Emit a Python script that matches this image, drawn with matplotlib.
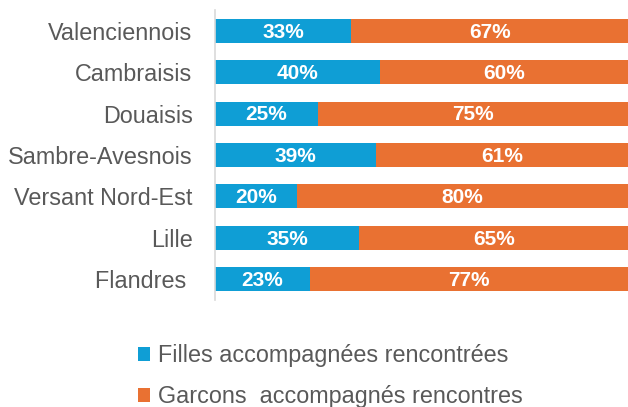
import matplotlib
matplotlib.use("Agg")
import matplotlib.pyplot as plt
import numpy as np

plt.rcParams["font.family"] = ["Liberation Sans", "DejaVu Sans"]

categories = ["Valenciennois", "Cambraisis", "Douaisis", "Sambre-Avesnois",
              "Versant Nord-Est", "Lille", "Flandres "]
filles = [33, 40, 25, 39, 20, 35, 23]
garcons = [67, 60, 75, 61, 80, 65, 77]
labels = ["Filles accompagnées rencontrées", "Garcons  accompagnés rencontres"]

BLUE = "#0F9ED5"
ORANGE = "#E97132"
GREY = "#595959"

fig = plt.figure(figsize=(6.28, 4.07), dpi=100)
ax = fig.add_axes([0.342, 0.263, 0.658, 0.712])

y = np.arange(len(categories))
b1 = ax.barh(y, filles, height=0.58, color=BLUE, label=labels[0])
b2 = ax.barh(y, garcons, left=filles, height=0.58, color=ORANGE, label=labels[1])

for vals, lefts in [(filles, [0] * len(filles)), (garcons, filles)]:
    for yi, v, l in zip(y, vals, lefts):
        ax.text(l + v / 2, yi + 0.03, f"{v}%", ha="center", va="center",
                color="white", fontsize=15, fontweight="bold")

ax.set_xlim(0, 100)
ax.set_ylim(len(categories) - 0.5, -0.5)
ax.set_yticks(y)
ax.set_yticklabels(categories, fontsize=16.8, color=GREY)
ax.tick_params(axis="y", length=0, pad=16)
ax.set_xticks([])
for s in ["top", "right", "bottom"]:
    ax.spines[s].set_visible(False)
ax.spines["left"].set_color("#D9D9D9")
ax.spines["left"].set_linewidth(1.2)

fig.legend(handles=[b1, b2], labels=labels, loc="upper left",
           bbox_to_anchor=(0.205, 0.177), ncol=1, frameon=False,
           fontsize=16.8, labelcolor=GREY, handlelength=0.52, handleheight=0.52,
           handletextpad=0.35, labelspacing=0.78, borderaxespad=0)

fig.savefig("out.png", dpi=100)
